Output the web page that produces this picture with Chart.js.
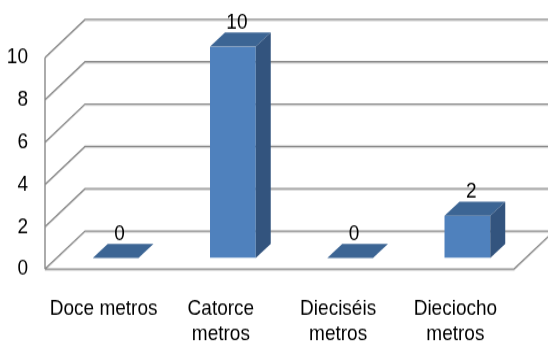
<!DOCTYPE html>
<html lang="es">
<head>
<meta charset="UTF-8">
<title>Metros</title>
<script src="https://cdn.jsdelivr.net/npm/chart.js@4"></script>
<style>
  html, body { margin: 0; padding: 0; background: #fff; }
</style>
</head>
<body>
<!-- drawn a bit squashed and stretched back by css: the original text is tall and narrow -->
<canvas id="chart" width="548" height="302" style="display:block; width:548px; height:347px;"></canvas>
<script>
const categories = ['Doce metros', ['Catorce', 'metros'], ['Dieciséis', 'metros'], ['Dieciocho', 'metros']];
const values = [0, 10, 0, 2];
const yTicks = [0, 2, 4, 6, 8, 10];

const S = 347 / 302; // vertical stretch
// fake 3D: planes offset from the plane the bars stand on
const FRONT = { dx: -12, dy: 11 / S };
const BACK = { dx: 28, dy: -27 / S };
const DEPTH = { dx: 15, dy: -14 / S };
const FONT = { family: '"Liberation Sans", Arial, sans-serif', size: 19 };

const grid3d = {
    id: 'grid3d',
    beforeDatasetsDraw(chart) {
        const ctx = chart.ctx, y = chart.scales.y, area = chart.chartArea;
        const x0 = area.left + FRONT.dx;
        const y0 = y.getPixelForValue(0);
        const drawLines = function (off, color, w) {
            ctx.strokeStyle = color;
            ctx.lineWidth = w;
            ctx.beginPath();
            yTicks.forEach(function (v) {
                const py = y.getPixelForValue(v) + off;
                ctx.moveTo(x0, py + FRONT.dy);
                ctx.lineTo(area.left + BACK.dx, py + BACK.dy);
                ctx.lineTo(chart.width, py + BACK.dy);
            });
            // left edge
            ctx.moveTo(x0, y0 + FRONT.dy + off);
            ctx.lineTo(x0, y.getPixelForValue(yTicks[yTicks.length - 1]) + FRONT.dy + off);
            // floor front + right edge
            ctx.moveTo(x0, y0 + FRONT.dy + off);
            ctx.lineTo(area.right + FRONT.dx, y0 + FRONT.dy + off);
            ctx.lineTo(area.right + BACK.dx, y0 + BACK.dy + off);
            ctx.stroke();
        };
        ctx.save();
        drawLines(1.2, '#d9d9d9', 1);
        drawLines(0, '#8a8a8a', 1.3);
        ctx.restore();
    },
    afterDatasetsDraw(chart) {
        const ctx = chart.ctx;
        const meta = chart.getDatasetMeta(0);
        ctx.save();
        meta.data.forEach(function (bar, i) {
            const l = bar.x - bar.width / 2, r = bar.x + bar.width / 2;
            // top face
            ctx.fillStyle = '#3c6594';
            ctx.beginPath();
            ctx.moveTo(l, bar.y);
            ctx.lineTo(r, bar.y);
            ctx.lineTo(r + DEPTH.dx, bar.y + DEPTH.dy);
            ctx.lineTo(l + DEPTH.dx, bar.y + DEPTH.dy);
            ctx.closePath();
            ctx.fill();
            // side face
            if (bar.base - bar.y > 0.5) {
                ctx.fillStyle = '#33547e';
                ctx.beginPath();
                ctx.moveTo(r, bar.y);
                ctx.lineTo(r + DEPTH.dx, bar.y + DEPTH.dy);
                ctx.lineTo(r + DEPTH.dx, bar.base + DEPTH.dy);
                ctx.lineTo(r, bar.base);
                ctx.closePath();
                ctx.fill();
            }
            // value label
            ctx.fillStyle = '#000';
            ctx.font = FONT.size + 'px ' + FONT.family;
            ctx.textAlign = 'center';
            ctx.textBaseline = 'middle';
            ctx.fillText(String(values[i]), bar.x + 4, bar.y + DEPTH.dy - 10 / S);
        });
        ctx.restore();
    }
};

new Chart(document.getElementById('chart'), {
    type: 'bar',
    data: {
        labels: categories,
        datasets: [{
            data: values,
            backgroundColor: '#4f81bd',
            borderWidth: 0,
            barPercentage: 0.39,
            categoryPercentage: 1
        }]
    },
    options: {
        responsive: false,
        animation: false,
        devicePixelRatio: 1,
        layout: { padding: { top: 43 / S, right: 22, left: 0, bottom: 0 } },
        plugins: { legend: { display: false }, tooltip: { enabled: false } },
        scales: {
            x: {
                grid: { display: false, drawTicks: false },
                border: { display: false },
                ticks: { color: '#000', font: { family: FONT.family, size: FONT.size, lineHeight: 1.15 },
                         labelOffset: -12, padding: 38 / S, maxRotation: 0, autoSkip: false },
                afterFit: function (s) { s.height = 89 / S; }
            },
            y: {
                min: 0,
                max: 10,
                grid: { display: false, drawTicks: false },
                border: { display: false },
                ticks: { color: '#000', font: { family: FONT.family, size: FONT.size },
                         labelOffset: 11 / S, padding: 29 },
                afterBuildTicks: function (s) { s.ticks = yTicks.map(function (v) { return { value: v }; }); },
                afterFit: function (s) { s.width = 57; }
            }
        }
    },
    plugins: [grid3d]
});
</script>
</body>
</html>
